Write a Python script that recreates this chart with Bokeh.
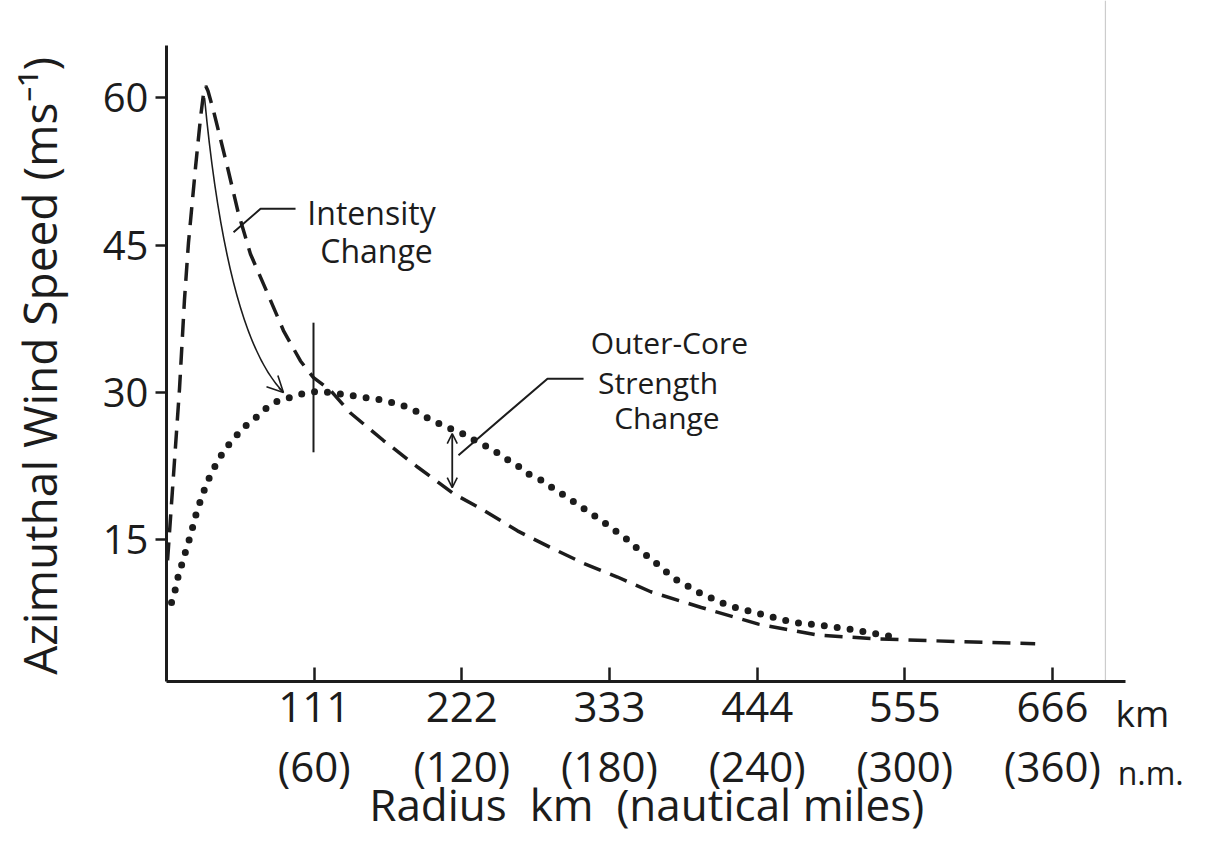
import math
from bokeh.plotting import figure
from bokeh.models import (Range1d, FixedTicker, Label, LinearAxis, Arrow, OpenHead)
from bokeh.embed import file_html
from bokeh.resources import INLINE

# ---------------- data ----------------
# inner-core (dashed) profile: radius km, azimuthal wind m/s
core_r = [0.8, 4.3, 9.8, 13.5, 16.5, 21.8, 25.6, 28.0, 29.5, 31.2, 35.3, 45.9, 54.1,
          63.1, 75.9, 87.9, 100.7, 110.5, 123.3, 138.3, 163.1, 188.7, 215.7, 238.3,
          263.8, 288.7, 313.5, 339.0, 364.0, 402.0, 445.0, 489.0, 534.0, 578.0, 653.0]
core_v = [12.9, 19.7, 30.4, 39.4, 45.2, 52.9, 58.0, 60.6, 61.2, 60.7, 58.7, 52.9, 48.2,
          44.1, 40.1, 36.3, 33.2, 31.5, 30.2, 27.9, 25.1, 22.4, 19.7, 18.0,
          15.9, 14.2, 12.6, 11.2, 9.7, 8.1, 6.4, 5.3, 4.9, 4.7, 4.4]

# outer-core (dotted) profile
outer_r = [3.8, 6.8, 9.0, 12.0, 15.0, 18.0, 21.8, 25.6, 30.1, 34.6, 39.8, 45.1, 51.9,
           58.6, 66.9, 75.2, 83.4, 93.2, 103.0, 113.5, 123.3, 133.0, 143.6, 153.3,
           163.1, 174.4, 185.0, 194.7, 203.7, 213.5, 222.5, 234.5, 245.0, 253.3,
           262.3, 272.0, 282.6, 290.9, 301.4, 311.2, 318.7, 328.5, 337.5, 346.5,
           354.0, 363.8, 381.0, 402.0, 422.0, 445.0, 470.0, 491.0, 513.0, 534.0, 552.0]
outer_v = [8.6, 10.0, 11.4, 12.7, 14.1, 15.4, 17.4, 19.0, 20.7, 22.0, 23.3, 24.4, 25.5,
           26.5, 27.4, 28.4, 29.1, 29.5, 29.9, 30.1, 30.0, 29.8, 29.6, 29.4,
           29.2, 28.8, 28.3, 27.5, 26.9, 26.3, 25.8, 24.9, 24.2, 23.4,
           22.7, 21.7, 21.0, 20.2, 19.3, 18.4, 17.7, 16.8, 15.9, 15.0,
           14.1, 13.1, 11.1, 9.5, 8.3, 7.5, 6.6, 6.3, 5.9, 5.4, 5.0]

tick_km = [111, 222, 333, 444, 555, 666]
tick_nm = ["(60)", "(120)", "(180)", "(240)", "(300)", "(360)"]
tick_wind = [15, 30, 45, 60]

# plotted extent of the axes
R_MAX = 720.9
V_MIN, V_MAX = 0.56, 65.33

FONT = "Open Sans"
INK = "#1c1c1c"
NB = "\u00a0"

# frame covers the whole canvas; axes are pinned with fixed_location + bounds
p = figure(width=1219, height=843, output_backend="svg", toolbar_location=None,
           x_range=Range1d(-124.78, 791.55), y_range=Range1d(-15.937, 69.908),
           min_border_left=0, min_border_right=0, min_border_top=0,
           min_border_bottom=0)
p.background_fill_color = "white"
p.border_fill_color = "white"
p.outline_line_color = None
p.grid.visible = False

# x axis (km)
xa = p.xaxis[0]
xa.fixed_location = V_MIN
xa.bounds = (0, R_MAX)
xa.ticker = FixedTicker(ticks=tick_km)
xa.major_label_overrides = {k: str(k) for k in tick_km}
xa.axis_line_width = 3
xa.axis_line_color = INK
xa.major_tick_in = 14
xa.major_tick_out = 0
xa.major_tick_line_width = 2.5
xa.major_tick_line_color = INK
xa.minor_tick_line_color = None
xa.major_label_text_font = FONT
xa.major_label_text_font_size = "42px"
xa.major_label_text_color = INK
xa.major_label_standoff = 11

# second row of x tick labels: nautical miles
xa2 = LinearAxis(ticker=FixedTicker(ticks=tick_km), fixed_location=V_MIN,
                 bounds=(0, R_MAX),
                 major_label_overrides=dict(zip(tick_km, tick_nm)))
xa2.axis_line_color = None
xa2.major_tick_line_color = None
xa2.minor_tick_line_color = None
xa2.major_tick_in = 0
xa2.major_tick_out = 0
xa2.major_label_text_font = FONT
xa2.major_label_text_font_size = "42px"
xa2.major_label_text_color = INK
xa2.major_label_standoff = 56
p.add_layout(xa2, "below")

# y axis (m/s)
ya = p.yaxis[0]
ya.fixed_location = 0
ya.bounds = (V_MIN, V_MAX)
ya.ticker = FixedTicker(ticks=tick_wind)
ya.axis_line_width = 3
ya.axis_line_color = INK
ya.major_tick_in = 0
ya.major_tick_out = 11
ya.major_tick_line_width = 2.5
ya.major_tick_line_color = INK
ya.minor_tick_line_color = None
ya.major_label_text_font = FONT
ya.major_label_text_font_size = "40px"
ya.major_label_text_color = INK
ya.major_label_standoff = 7

# page edge of the scanned figure
p.line([705.8, 705.8], [V_MIN, 69.908], line_color="#cccccc", line_width=1.2)

# curves
p.line(core_r, core_v, line_color=INK, line_width=3.5, line_dash="18 10")
p.line(outer_r, outer_v, line_color=INK, line_width=7, line_dash="0 13", line_cap="round")

# intensity-change curved arrow
x0, y0, x1, y1, cx, cy = 28.6, 60.0, 87.9, 30.0, 45.55, 35.8
p.quadratic(x0=[x0], y0=[y0], x1=[x1], y1=[y1], cx=[cx], cy=[cy], line_color=INK, line_width=1.6)
p.add_layout(Arrow(end=OpenHead(size=16, line_width=1.6, line_color=INK),
                   x_start=x1 - 0.08 * (x1 - cx), y_start=y1 - 0.08 * (y1 - cy),
                   x_end=x1, y_end=y1, line_color=INK, line_width=1.6))

# vertical marker at radius of outer-core max
p.line([110.5, 110.5], [23.9, 37.1], line_color=INK, line_width=2)

# double-headed arrow for strength change
p.add_layout(Arrow(start=OpenHead(size=10, line_width=1.6, line_color=INK),
                   end=OpenHead(size=10, line_width=1.6, line_color=INK),
                   x_start=214.8, y_start=20.3, x_end=214.8, y_end=25.8,
                   line_color=INK, line_width=1.8))

# leader lines
p.line([97.0, 70.7, 50.4], [48.7, 48.7, 46.3], line_color=INK, line_width=2)
p.line([313.5, 286.4, 219.5], [31.4, 31.4, 23.6], line_color=INK, line_width=2)

def lab(x, y, t, size, align="center", angle=0.0):
    p.add_layout(Label(x=x, y=y, text=t, text_font=FONT, text_font_size=size,
                       text_color=INK, text_align=align, text_baseline="middle",
                       angle=angle))

lab(154.1, 48.3, "Intensity", "32px")
lab(157.9, 44.5, "Change", "32px")
lab(378.1, 35.1, "Outer-Core", "30px")
lab(369.5, 31.0, "Strength", "30px")
lab(376.2, 27.4, "Change", "30px")

lab(713.4, -2.6, "km", "37px", align="left")
lab(715.0, -8.7, "n.m.", "32px", align="left")
lab(361.0, -11.9, "Radius" + NB * 2 + "km" + NB * 2 + "(nautical miles)", "44px")
lab(-95.5, 32.7, "Azimuthal Wind Speed (ms\u207b\u00b9)", "46px", angle=math.pi / 2)

open("out.html", "w").write(file_html(p, INLINE))
